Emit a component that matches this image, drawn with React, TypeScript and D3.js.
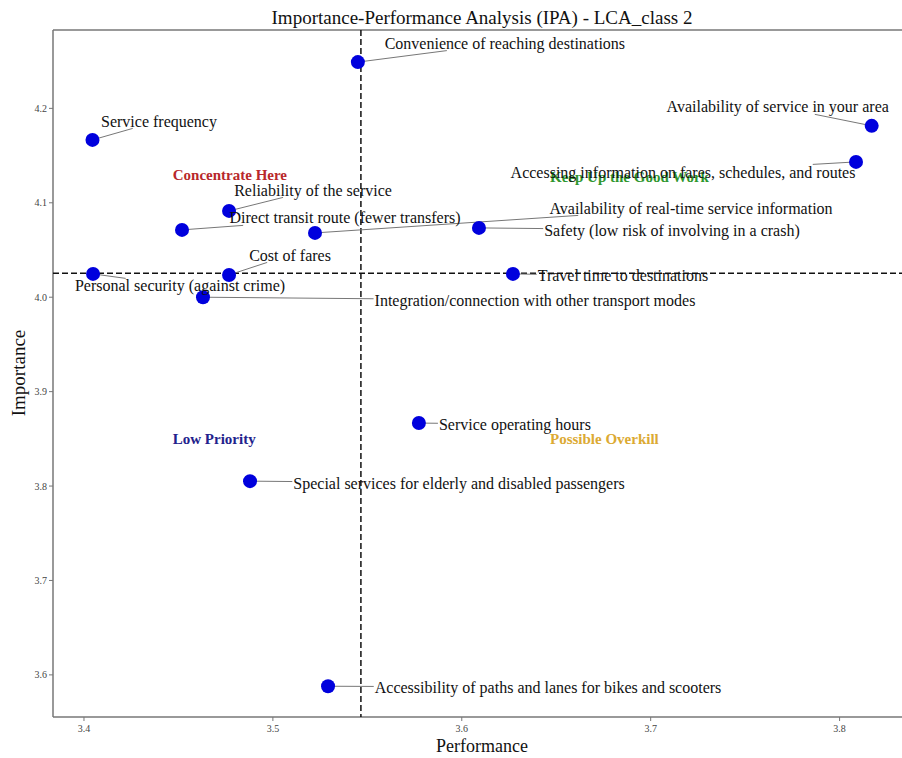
import React, { useEffect, useRef } from "react";
import * as d3 from "d3";

const attributes = [
  "Convenience of reaching destinations",
  "Service frequency",
  "Availability of service in your area",
  "Accessing information on fares, schedules, and routes",
  "Reliability of the service",
  "Direct transit route (fewer transfers)",
  "Availability of real-time service information",
  "Safety (low risk of involving in a crash)",
  "Cost of fares",
  "Personal security (against crime)",
  "Travel time to destinations",
  "Integration/connection with other transport modes",
  "Service operating hours",
  "Special services for elderly and disabled passengers",
  "Accessibility of paths and lanes for bikes and scooters",
];
const performance = [3.545, 3.4045, 3.817, 3.8087, 3.4768, 3.4519, 3.5223, 3.6091, 3.4768, 3.4048, 3.6271, 3.463, 3.5773, 3.4879, 3.5292];
const importance = [4.249, 4.1666, 4.1815, 4.1433, 4.0914, 4.0713, 4.0681, 4.0734, 4.0236, 4.0247, 4.0247, 4.0, 3.8667, 3.8052, 3.588];

// label layout (pixel offset of label centre from its point, as produced by label repulsion)
const labelDx = [147, 66.5, -94, -173, 84, 163, 376, 193, 61, 87, 110, 332, 96, 209, 220];
const labelDy = [-19, -19, -19, 10, -21, -12, -25, 2, -20, 12, 2, 3, 1, 2, 1];

const meanPerformance = 3.5466;
const meanImportance = 4.0254;

const quadrantNames = ["Concentrate Here", "Keep Up the Good Work", "Low Priority", "Possible Overkill"];
const quadrantX = [3.447, 3.6467, 3.447, 3.6467];
const quadrantY = [4.1296, 4.1276, 3.85, 3.85];
const quadrantColors = ["#b8272b", "#2e962e", "#22228c", "#dcaa33"];

const xTicks = [3.4, 3.5, 3.6, 3.7, 3.8];
const yTicks = [3.6, 3.7, 3.8, 3.9, 4.0, 4.1, 4.2];

const W = 902;
const H = 758;
const FONT = "'Liberation Serif', 'Times New Roman', serif";

export default function App() {
  const ref = useRef<SVGSVGElement>(null);

  useEffect(() => {
    document.body.style.margin = "0";
    const svg = d3.select(ref.current);
    svg.selectAll("*").remove();

    const left = 53, top = 30, bottom = 717;
    const x = d3.scaleLinear().domain([3.3836, 3.85]).range([left, left + (3.85 - 3.3836) * 1889]);
    const y = d3.scaleLinear().domain([3.5554, 4.283]).range([bottom, top]);

    // title
    svg.append("text").attr("x", 482).attr("y", 24).attr("text-anchor", "middle")
      .attr("font-family", FONT).attr("font-size", 19).attr("fill", "#111")
      .text("Importance-Performance Analysis (IPA) - LCA_class 2");

    // spines
    const axisColor = "#777";
    svg.append("line").attr("x1", left).attr("x2", W).attr("y1", top).attr("y2", top)
      .attr("stroke", axisColor).attr("stroke-width", 1.5);
    svg.append("line").attr("x1", left).attr("x2", W).attr("y1", bottom).attr("y2", bottom)
      .attr("stroke", axisColor).attr("stroke-width", 1.5);
    svg.append("line").attr("x1", left).attr("x2", left).attr("y1", top).attr("y2", bottom)
      .attr("stroke", axisColor).attr("stroke-width", 1.5);

    // ticks
    const xt = svg.append("g");
    xTicks.forEach((t) => {
      xt.append("line").attr("x1", x(t)).attr("x2", x(t)).attr("y1", bottom).attr("y2", bottom + 4)
        .attr("stroke", axisColor).attr("stroke-width", 1);
      xt.append("text").attr("x", x(t)).attr("y", bottom + 15).attr("text-anchor", "middle")
        .attr("font-family", FONT).attr("font-size", 10).attr("fill", "#444").text(d3.format(".1f")(t));
    });
    const yt = svg.append("g");
    yTicks.forEach((t) => {
      yt.append("line").attr("x1", left - 4).attr("x2", left).attr("y1", y(t)).attr("y2", y(t))
        .attr("stroke", axisColor).attr("stroke-width", 1);
      yt.append("text").attr("x", left - 6).attr("y", y(t)).attr("dy", "0.35em").attr("text-anchor", "end")
        .attr("font-family", FONT).attr("font-size", 10).attr("fill", "#444").text(d3.format(".1f")(t));
    });

    // axis titles
    svg.append("text").attr("x", 482).attr("y", 752).attr("text-anchor", "middle")
      .attr("font-family", FONT).attr("font-size", 18).attr("fill", "#111").text("Performance");
    svg.append("text").attr("transform", `translate(25,373) rotate(-90)`).attr("text-anchor", "middle")
      .attr("font-family", FONT).attr("font-size", 19).attr("fill", "#111").text("Importance");

    // mean lines
    svg.append("line").attr("x1", x(meanPerformance)).attr("x2", x(meanPerformance)).attr("y1", top).attr("y2", bottom)
      .attr("stroke", "#111").attr("stroke-width", 1.5).attr("stroke-dasharray", "6,3");
    svg.append("line").attr("x1", left).attr("x2", W).attr("y1", y(meanImportance)).attr("y2", y(meanImportance))
      .attr("stroke", "#111").attr("stroke-width", 1.5).attr("stroke-dasharray", "6,3");

    // quadrant labels
    quadrantNames.forEach((q, i) => {
      svg.append("text").attr("x", x(quadrantX[i])).attr("y", y(quadrantY[i])).attr("dy", "0.35em")
        .attr("font-family", FONT).attr("font-size", 15).attr("font-weight", "bold")
        .attr("fill", quadrantColors[i]).text(q);
    });

    // labels + connectors
    const lineG = svg.append("g");
    const ptG = svg.append("g");
    const txtG = svg.append("g");
    attributes.forEach((a, i) => {
      const px = x(performance[i]);
      const py = y(importance[i]);
      const cx = px + labelDx[i];
      const cy = py + labelDy[i];
      const t = txtG.append("text").attr("x", cx).attr("y", cy).attr("dy", "0.35em")
        .attr("text-anchor", "middle").attr("font-family", FONT).attr("font-size", 16)
        .attr("fill", "#111").text(a);
      const bb = (t.node() as SVGTextElement).getBBox();
      const hw = bb.width / 2 + 1;
      const hh = 7.5;
      const dx = px - cx, dy = py - cy;
      let s = 1;
      if (dx !== 0) s = Math.min(s, hw / Math.abs(dx));
      if (dy !== 0) s = Math.min(s, hh / Math.abs(dy));
      const ex = cx + dx * s, ey = cy + dy * s;
      lineG.append("line").attr("x1", px).attr("y1", py).attr("x2", ex).attr("y2", ey)
        .attr("stroke", "#777").attr("stroke-width", 1);
      ptG.append("circle").attr("cx", px).attr("cy", py).attr("r", 7).attr("fill", "#0000dd");
    });
  }, []);

  return <svg ref={ref} width={W} height={H} style={{ display: "block", background: "#fff" }} />;
}
